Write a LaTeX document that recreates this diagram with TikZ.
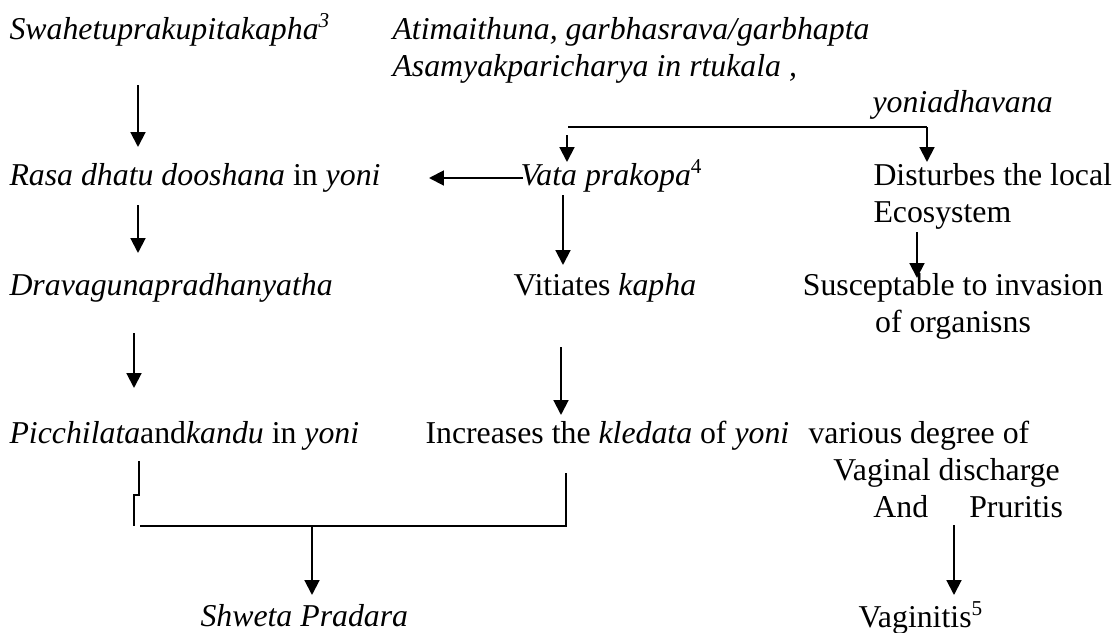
\documentclass[tikz,border=0pt]{standalone}
\usepackage{fontspec}
\setmainfont{Liberation Serif}
\usepackage{tikz}
\usetikzlibrary{arrows.meta, calc}
\tikzset{
  txt/.style={inner sep=0pt,anchor=base west,font=\fontsize{12}{13.96}\selectfont},
  arrow/.style={-{Triangle[length=5.6pt,width=5.6pt]},line width=0.75pt,draw=black},
  plainline/.style={line width=0.7pt,draw=black}
}

\begin{document}
\begin{tikzpicture}[x=0.3774pt,y=-0.3774pt]
  \useasboundingbox (0,0) rectangle (1117,633);
  \node[txt] (swa) at (9,39) {\textit{Swahetuprakupitakapha\textsuperscript{3}}};
  \node[txt,align=left] (ati) at (392,76)
    {\textit{Atimaithuna, garbhasrava/garbhapta}\\ \textit{Asamyakparicharya in rtukala ,}};
  \node[txt] (yoni) at (872,112) {\textit{yoniadhavana}};
  \node[txt] (rasa) at (9,185) {\textit{Rasa dhatu dooshana} in \textit{yoni}};
  \node[txt] (vata) at (520,185) {\textit{Vata prakopa}\textsuperscript{4}};
  \node[txt,align=left] (dist) at (873,222) {Disturbes the local\\ Ecosystem};
  \node[txt] (drava) at (9,295) {\textit{Dravagunapradhanyatha}};
  \node[txt] (viti) at (513,295) {Vitiates \textit{kapha}};
  \node[txt,anchor=base,align=center] (susc) at (953,332)
    {Susceptable to invasion\\ of organisns};
  \node[txt] (picc) at (9,443) {\textit{Picchilata}and\textit{kandu} in \textit{yoni}};
  \node[txt] (incr) at (425,443) {Increases the \textit{kledata} of \textit{yoni}};
  \node[txt,align=left] (vari) at (808,517)
    {various degree of\\ \hspace*{9.4pt}Vaginal discharge\\ \hspace*{24.5pt}And\hspace{15.5pt}Pruritis};
  \node[txt] (shweta) at (200,626) {\textit{Shweta Pradara}};
  \node[txt] (vagi) at (858,627) {Vaginitis\textsuperscript{5}};

  \draw[arrow] ($(swa.base west)+(129,46)$) -- ($(rasa.base west)+(129,-38)$);
  \draw[arrow] ($(rasa.base west)+(129,20)$) -- ($(drava.base west)+(129,-42)$);
  \draw[arrow] ($(drava.base west)+(125,38)$) -- ($(picc.base west)+(125,-55)$);
  \draw[plainline] ($(yoni.base west)+(-304,15)$) -- ($(yoni.base west)+(55,15)$) coordinate (split);
  \draw[arrow] ($(vata.base west)+(47,-50)$) -- ($(vata.base west)+(47,-23)$);
  \draw[arrow] (split) -- ($(dist.base west)+(54,-60)$);
  \draw[arrow] ($(vata.base west)+(3,-7)$) -- ($(rasa.base west)+(420,-7)$);
  \draw[arrow] ($(vata.base west)+(43,10)$) -- ($(viti.base west)+(50,-30)$);
  \draw[arrow] ($(dist.base west)+(44,10)$) -- ($(susc.base)+(-36,-54)$);
  \draw[arrow] ($(viti.base west)+(48,52)$) -- ($(incr.base west)+(136,-28)$);
  \draw[plainline] ($(picc.base west)+(130,18)$) -- ($(picc.base west)+(130,52)$)
    -- ($(picc.base west)+(125,52)$) -- ($(picc.base west)+(125,83)$);
  \draw[plainline] ($(picc.base west)+(131,83)$) -- ($(incr.base west)+(141,83)$)
    -- ($(incr.base west)+(141,30)$);
  \draw[arrow] ($(shweta.base west)+(112,-100)$) -- ($(shweta.base west)+(112,-31)$);
  \draw[arrow] ($(vari.base west)+(146,8)$) -- ($(vagi.base west)+(96,-32)$);
\end{tikzpicture}
\end{document}
